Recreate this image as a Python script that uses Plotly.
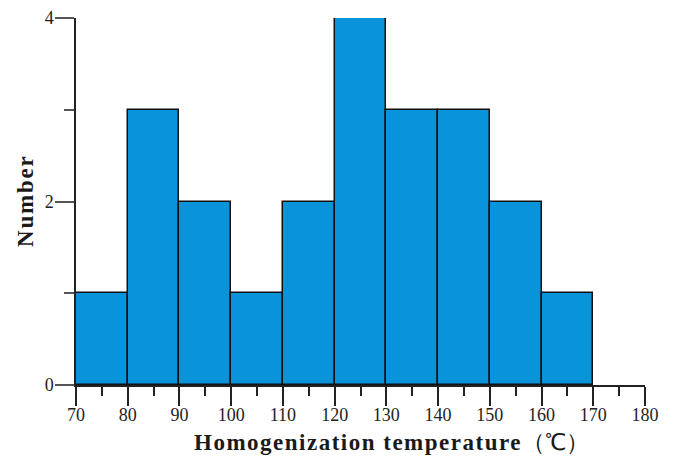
import plotly.graph_objects as go

bin_left = [70, 80, 90, 100, 110, 120, 130, 140, 150, 160]
counts = [1, 3, 2, 1, 2, 4, 3, 3, 2, 1]
bin_width = 10
x_ticks = [70, 80, 90, 100, 110, 120, 130, 140, 150, 160, 170, 180]
y_ticks = [0, 2, 4]
y_minor = [1, 3]
x_title = "<span style='letter-spacing:1.5px'><b>Homogenization temperature</b></span>（℃）"
y_title = "<span style='letter-spacing:1.8px'><b>Number</b></span>"

centers = [b + bin_width / 2 for b in bin_left]

fig = go.Figure()
fig.add_trace(go.Bar(
    x=centers, y=counts, width=bin_width,
    marker=dict(color="#0893DB", line=dict(color="#111111", width=1.5)),
))

serif = "Liberation Serif, Times New Roman, serif"
L, R, T, B, W, H = 76, 30, 18, 71, 675, 456
pw, ph = W - L - R, H - T - B

fig.update_layout(
    width=W, height=H,
    margin=dict(l=L, r=R, t=T, b=B),
    paper_bgcolor="white", plot_bgcolor="white",
    showlegend=False,
    bargap=0,
    font=dict(family=serif, color="#222222"),
    xaxis=dict(
        range=[70, 180], tickmode="array", tickvals=x_ticks,
        ticks="outside", ticklen=19, tickwidth=1.5, tickcolor="#222222",
        showline=True, linecolor="#222222", linewidth=1.5,
        showgrid=False, zeroline=False, automargin=False,
        ticklabelstandoff=-6,
        tickfont=dict(size=18, family=serif, color="#222222"),
        minor=dict(dtick=5, tick0=70, ticks="outside", ticklen=9, tickwidth=1.5, tickcolor="#222222", showgrid=False),
    ),
    yaxis=dict(
        range=[0, 4], tickmode="array", tickvals=y_ticks,
        ticks="outside", ticklen=19, tickwidth=1.5, tickcolor="#555555",
        showline=True, linecolor="#222222", linewidth=1.5,
        showgrid=False, zeroline=False, automargin=False,
        ticklabelstandoff=-2,
        tickfont=dict(size=18, family=serif, color="#222222"),
        minor=dict(tickmode="array", tickvals=y_minor, ticks="outside", ticklen=10, tickwidth=1.5, tickcolor="#555555", showgrid=False),
    ),
    annotations=[
        dict(text=x_title, xref="paper", yref="paper",
             x=(391 - L) / pw, y=-(442 - (H - B)) / ph,
             xanchor="center", yanchor="middle", showarrow=False,
             font=dict(size=23, family=serif, color="#1a1a1a")),
        dict(text=y_title, xref="paper", yref="paper",
             x=(25 - L) / pw, y=((H - B) - 201) / ph, textangle=-90,
             xanchor="center", yanchor="middle", showarrow=False,
             font=dict(size=23, family=serif, color="#1a1a1a")),
    ],
)

fig.write_html("out.html")
